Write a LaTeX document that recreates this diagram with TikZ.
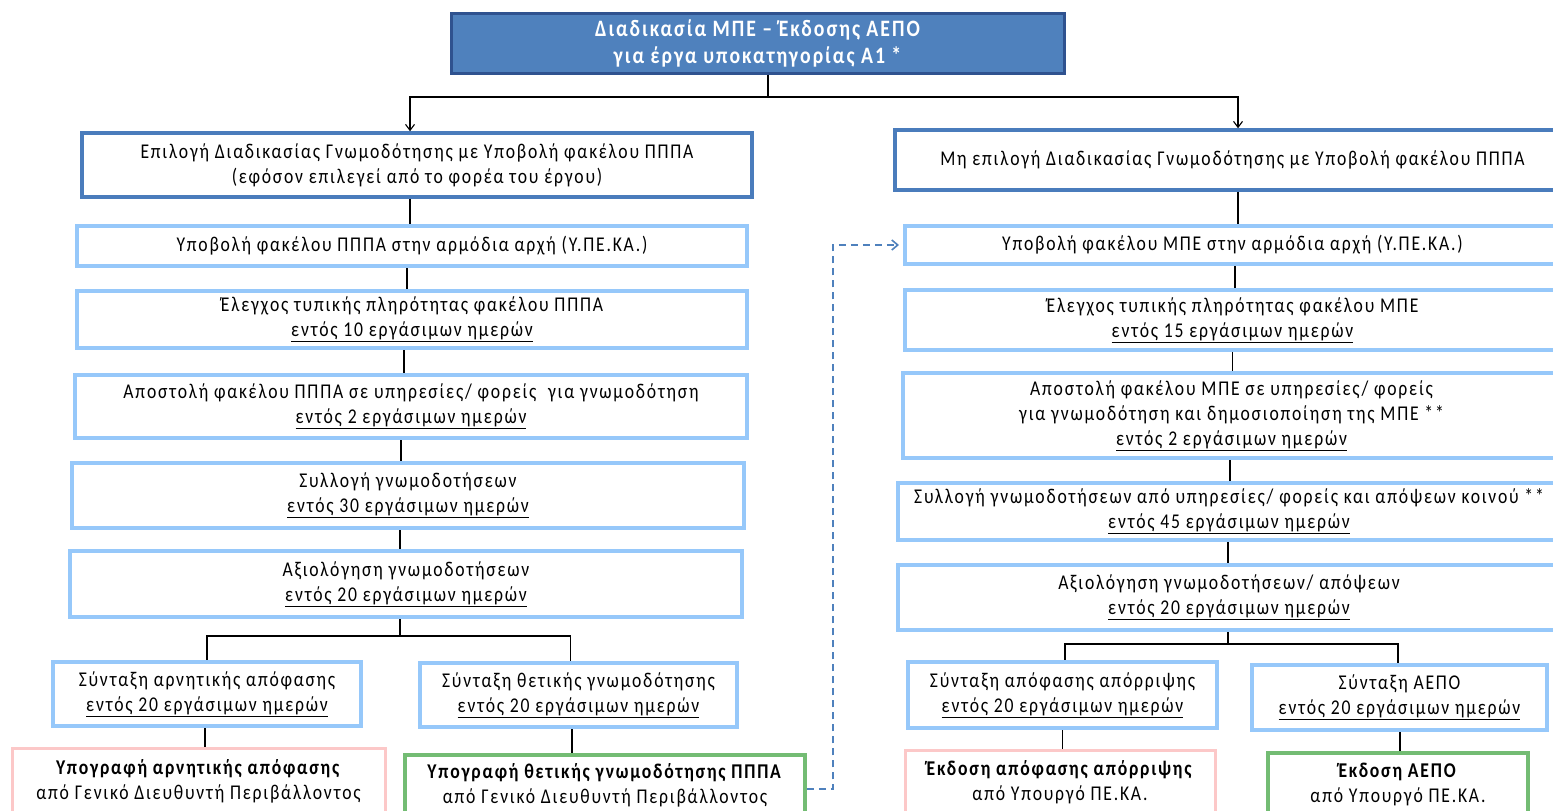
\documentclass[tikz,border=0pt]{standalone}
\usepackage{fontspec}
\setmainfont{Carlito}[FakeStretch=0.84, LetterSpace=8.5]
\usetikzlibrary{arrows.meta}
\definecolor{headfill}{RGB}{79,129,189}
\definecolor{headdraw}{RGB}{47,82,143}
\definecolor{mainblue}{RGB}{74,124,188}
\definecolor{lightblue}{RGB}{150,200,250}
\definecolor{softpink}{RGB}{252,200,200}
\definecolor{softgreen}{RGB}{115,188,115}
\definecolor{dashblue}{RGB}{79,129,189}
\begin{document}
\begin{tikzpicture}[x=1pt,y=-1pt,
  every node/.style={font=\fontsize{21}{25}\selectfont, align=center, inner sep=0pt},
  headbox/.style={draw=headdraw, fill=headfill, line width=3pt, text=white,
    font=\fontsize{23.5}{27}\selectfont\bfseries},
  choicebox/.style={draw=mainblue, line width=3.5pt, fill=white},
  stepbox/.style={draw=lightblue, line width=4pt, fill=white},
  rejectbox/.style={draw=softpink, line width=3pt, fill=white},
  acceptbox/.style={draw=softgreen, line width=3.5pt, fill=white},
  link/.style={draw=black, line width=1.1pt},
  arrowlink/.style={link, -{Straight Barb[length=6pt,width=9pt,line width=1.1pt]}},
  dashlink/.style={draw=dashblue, line width=1.6pt, dash pattern=on 7pt off 5pt,
    -{Straight Barb[length=6pt,width=10pt,line width=1.6pt]}}
]
\clip (0,0) rectangle (1553,811);
\useasboundingbox (0,0) rectangle (1553,811);

% title
\node[headbox, minimum width=613pt, minimum height=60pt] (title) at (757.5,43)
  {Διαδικασία ΜΠΕ – Έκδοσης ΑΕΠΟ\\για έργα υποκατηγορίας Α1 *};

% left branch: opinion procedure
\node[choicebox, minimum width=670pt, minimum height=64pt] (l1) at (417,165)
  {Επιλογή Διαδικασίας Γνωμοδότησης με Υποβολή φακέλου ΠΠΠΑ\\(εφόσον επιλεγεί από το φορέα του έργου)};
\node[stepbox, minimum width=670pt, minimum height=40pt] (l2) at (412,246)
  {Υποβολή φακέλου ΠΠΠΑ στην αρμόδια αρχή (Υ.ΠΕ.ΚΑ.)};
\node[stepbox, minimum width=670pt, minimum height=57pt] (l3) at (412,319.5)
  {Έλεγχος τυπικής πληρότητας φακέλου ΠΠΠΑ\\\underline{εντός 10 εργάσιμων ημερών}};
\node[stepbox, minimum width=672pt, minimum height=63pt] (l4) at (411,406.5)
  {Αποστολή φακέλου ΠΠΠΑ σε υπηρεσίες/ φορείς\ \ για γνωμοδότηση\\\underline{εντός 2 εργάσιμων ημερών}};
\node[stepbox, minimum width=672pt, minimum height=65pt] (l5) at (408,495.5)
  {Συλλογή γνωμοδοτήσεων\\\underline{εντός 30 εργάσιμων ημερών}};
\node[stepbox, minimum width=672pt, minimum height=66pt] (l6) at (406,584)
  {Αξιολόγηση γνωμοδοτήσεων\\\underline{εντός 20 εργάσιμων ημερών}};
\node[stepbox, minimum width=308pt, minimum height=64pt] (l7) at (207,694)
  {Σύνταξη αρνητικής απόφασης\\\underline{εντός 20 εργάσιμων ημερών}};
\node[stepbox, minimum width=317pt, minimum height=64pt] (l8) at (578.5,695)
  {Σύνταξη θετικής γνωμοδότησης\\\underline{εντός 20 εργάσιμων ημερών}};
\node[rejectbox, minimum width=373pt, minimum height=67pt] (l9) at (198.5,781.5)
  {\textbf{Υπογραφή αρνητικής απόφασης}\\από Γενικό Διευθυντή Περιβάλλοντος};
\node[acceptbox, minimum width=400pt, minimum height=60pt] (l10) at (605,785)
  {\textbf{Υπογραφή θετικής γνωμοδότησης ΠΠΠΑ}\\από Γενικό Διευθυντή Περιβάλλοντος};

% right branch: full EIA procedure
\node[choicebox, minimum width=675pt, minimum height=60pt] (r1) at (1232.5,160)
  {Μη επιλογή Διαδικασίας Γνωμοδότησης με Υποβολή φακέλου ΠΠΠΑ};
\node[stepbox, minimum width=655pt, minimum height=38pt] (r2) at (1232.5,245)
  {Υποβολή φακέλου ΜΠΕ στην αρμόδια αρχή (Υ.ΠΕ.ΚΑ.)};
\node[stepbox, minimum width=655pt, minimum height=60pt] (r3) at (1232.5,320)
  {Έλεγχος τυπικής πληρότητας φακέλου ΜΠΕ\\\underline{εντός 15 εργάσιμων ημερών}};
\node[stepbox, minimum width=657pt, minimum height=85pt] (r4) at (1231.5,415.5)
  {Αποστολή φακέλου ΜΠΕ σε υπηρεσίες/ φορείς\\για γνωμοδότηση και δημοσιοποίηση της ΜΠΕ **\\\underline{εντός 2 εργάσιμων ημερών}};
\node[stepbox, minimum width=662pt, minimum height=57pt] (r5) at (1229,511.5)
  {Συλλογή γνωμοδοτήσεων από υπηρεσίες/ φορείς και απόψεων κοινού **\\\underline{εντός 45 εργάσιμων ημερών}};
\node[stepbox, minimum width=662pt, minimum height=65pt] (r6) at (1229,597.5)
  {Αξιολόγηση γνωμοδοτήσεων/ απόψεων\\\underline{εντός 20 εργάσιμων ημερών}};
\node[stepbox, minimum width=309pt, minimum height=66pt] (r7) at (1062.5,695)
  {Σύνταξη απόφασης απόρριψης\\\underline{εντός 20 εργάσιμων ημερών}};
\node[stepbox, minimum width=295pt, minimum height=65pt] (r8) at (1399.5,697.5)
  {Σύνταξη ΑΕΠΟ\\\underline{εντός 20 εργάσιμων ημερών}};
\node[rejectbox, minimum width=310pt, minimum height=65pt] (r9) at (1060,782.5)
  {\textbf{Έκδοση απόφασης απόρριψης}\\από Υπουργό ΠΕ.ΚΑ.};
\node[acceptbox, minimum width=260pt, minimum height=62pt] (r10) at (1398,784)
  {\textbf{Έκδοση ΑΕΠΟ}\\από Υπουργό ΠΕ.ΚΑ.};

% split below the title
\coordinate (tj) at (768,97);
\draw[link] (tj |- title.south) -- (tj);
\draw[arrowlink] (tj) -| ([xshift=-7pt]l1.north);
\draw[arrowlink] (tj) -| ([xshift=5.5pt]r1.north);

% left chain
\draw[link] ([xshift=-7pt]l1.south) -- ([xshift=-7pt]l1.south |- l2.north);
\draw[link] ([xshift=-5pt]l2.south) -- ([xshift=-5pt]l2.south |- l3.north);
\draw[link] ([xshift=-8pt]l3.south) -- ([xshift=-8pt]l3.south |- l4.north);
\draw[link] ([xshift=-10pt]l4.south) -- ([xshift=-10pt]l4.south |- l5.north);
\draw[link] ([xshift=-8pt]l5.south) -- ([xshift=-8pt]l5.south |- l6.north);
\coordinate (lj) at (400,636);
\draw[link] (lj |- l6.south) -- (lj);
\draw[link] (lj) -| (l7.north);
\draw[link] (lj) -| ([xshift=-8pt]l8.north);
\draw[link] ([xshift=-2pt]l7.south) -- ([xshift=-2pt]l7.south |- l9.north);
\draw[link] ([xshift=-6.5pt]l8.south) -- ([xshift=-6.5pt]l8.south |- l10.north);

% right chain
\draw[link] ([xshift=5.5pt]r1.south) -- ([xshift=5.5pt]r1.south |- r2.north);
\draw[link] ([xshift=2.5pt]r2.south) -- ([xshift=2.5pt]r2.south |- r3.north);
\draw[link] (r3.south) -- (r3.south |- r4.north);
\draw[link] ([xshift=-1.5pt]r4.south) -- ([xshift=-1.5pt]r4.south |- r5.north);
\draw[link] ([xshift=-1pt]r5.south) -- ([xshift=-1pt]r5.south |- r6.north);
\coordinate (rj) at (1228,644);
\draw[link] (rj |- r6.south) -- (rj);
\draw[link] (rj) -| ([xshift=2.5pt]r7.north);
\draw[link] (rj) -| ([xshift=-1.5pt]r8.north);
\draw[link] (r7.south) -- (r7.south |- r9.north);
\draw[link] ([xshift=0.5pt]r8.south) -- ([xshift=0.5pt]r8.south |- r10.north);

% positive opinion leads on to the EIA submission
\coordinate (dx) at (833,0);
\draw[dashlink, shorten >=4pt] ([yshift=-4pt]l10.east) -- ([yshift=-4pt]l10.east -| dx) |- (r2.west);
\end{tikzpicture}
\end{document}
